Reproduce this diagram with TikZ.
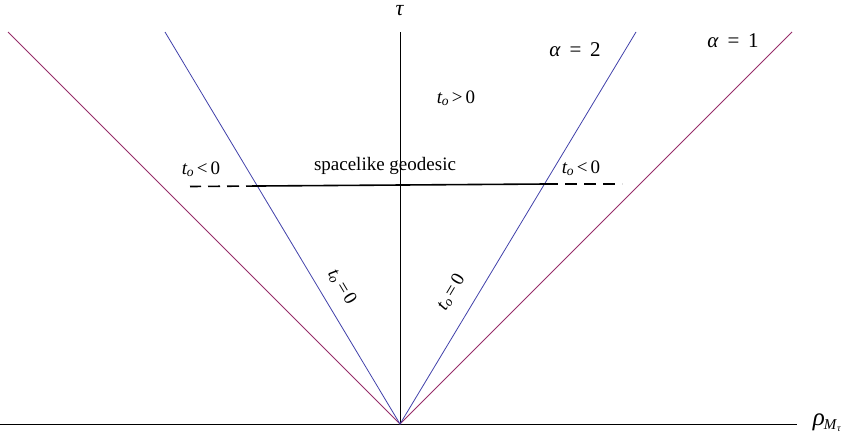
\documentclass[tikz,border=0pt]{standalone}
\usepackage{fontspec}
\setmainfont{Liberation Serif}
\usepackage{tikz}
\usetikzlibrary{positioning}
\definecolor{alphaone}{RGB}{150,45,105}
\definecolor{alphatwo}{RGB}{65,65,170}
\newcommand{\tsub}{\textit{t}\kern-0.5pt\raisebox{-0.25ex}{\fontsize{13.5}{14}\selectfont\textit{o}}}

\begin{document}
\begin{tikzpicture}[
  x=1pt,y=-1pt,
  font=\fontsize{19}{22}\selectfont,
  axisline/.style={line width=0.8pt},
  cone/.style={line width=0.8pt},
  geo/.style={line width=1.6pt},
  geodash/.style={line width=1.6pt,dash pattern=on 12pt off 7pt},
  lbl/.style={inner sep=1pt}
]
\useasboundingbox (0,0) rectangle (846,440);
\coordinate (origin) at (400,424);
\coordinate (hleft) at (0,424);
\coordinate (hright) at (797,424);
\coordinate (vtop) at (400,32);
\coordinate (oneleft) at (8,32);
\coordinate (oneright) at (792,32);
\coordinate (twoleft) at (165,32);
\coordinate (tworight) at (636,32);
\coordinate (geoleft) at (258,186);
\coordinate (georight) at (546,184);
\coordinate (dashleft) at (190,186.5);
\coordinate (dashright) at (622,184);
% axes
\draw[axisline] (hleft) -- (hright);
\draw[axisline] (origin) -- (vtop);
\node[lbl,font=\fontsize{22}{24}\selectfont] (tau) at (400,11) {\textit{τ}};
\node[lbl,font=\fontsize{25}{26}\selectfont] (rho) at (827,423)
  {\textit{ρ}\kern-1pt\raisebox{-0.35ex}{\fontsize{15}{15}\selectfont\textit{M}\raisebox{-0.3ex}{\fontsize{10}{10}\selectfont\textit{τ}}}};
% light cones
\draw[cone,alphaone] (oneleft) -- (origin) -- (oneright);
\draw[cone,alphatwo] (twoleft) -- (origin) -- (tworight);
\node[lbl,font=\fontsize{21}{22}\selectfont] (aone) at (733,41) {\textit{α}\, =\, 1};
\node[lbl,font=\fontsize{21}{22}\selectfont] (atwo) at (575,50) {\textit{α}\, =\, 2};
% geodesic
\draw[geo] (geoleft) -- (georight);
\draw[geodash] (geoleft) -- (dashleft);
\draw[geodash] (georight) -- (dashright);
\node[lbl] (geolabel) at (385,166) {spacelike geodesic};
\node[lbl] (negleft) at (201,169) {\tsub\,<\,0};
\node[lbl] (negright) at (581,168) {\tsub\,<\,0};
\node[lbl] (pos) at (456,98) {\tsub\,>\,0};
\node[lbl,rotate=-59] (zeroleft) at (342,287) {\tsub\,=\,0};
\node[lbl,rotate=59] (zeroright) at (451,292) {\tsub\,=\,0};
\end{tikzpicture}
\end{document}
